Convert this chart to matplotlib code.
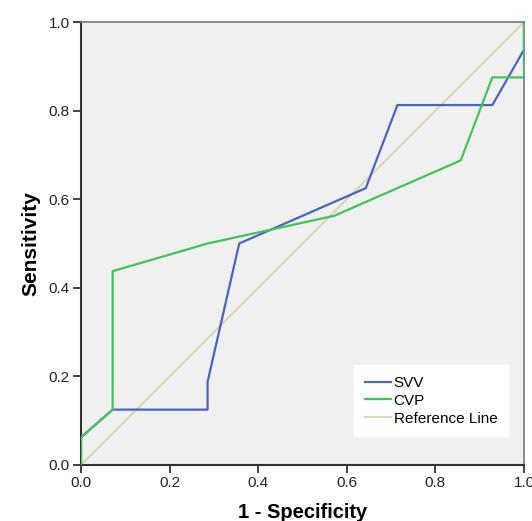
import matplotlib.pyplot as plt

plt.rcParams['font.family'] = ['Liberation Sans', 'DejaVu Sans']

# ROC points (14 negatives, 16 positives)
svv_x = [0, 0, 1/14, 4/14, 4/14, 5/14, 9/14, 10/14, 13/14, 1, 1]
svv_y = [0, 1/16, 2/16, 2/16, 3/16, 8/16, 10/16, 13/16, 13/16, 15/16, 1]
cvp_x = [0, 0, 1/14, 1/14, 4/14, 8/14, 12/14, 13/14, 1, 1]
cvp_y = [0, 1/16, 2/16, 7/16, 8/16, 9/16, 11/16, 14/16, 14/16, 1]
ref_x = [0, 1]
ref_y = [0, 1]
ticks = [0.0, 0.2, 0.4, 0.6, 0.8, 1.0]

fig = plt.figure(figsize=(5.32, 5.21), dpi=100)
ax = fig.add_axes([81/532, 1 - 465/521, 443/532, 443/521])
ax.set_facecolor('#f0f0f0')

ax.plot(svv_x, svv_y, color='#4a64c2', lw=1.6, label='SVV', zorder=2)
ax.plot(cvp_x, cvp_y, color='#42c458', lw=1.6, label='CVP', zorder=3)
ax.plot(ref_x, ref_y, color='#d9d4a6', lw=1.3, label='Reference Line', zorder=1)

ax.set_xlim(0, 1)
ax.set_ylim(0, 1)
ax.set_xticks(ticks)
ax.set_yticks(ticks)
ax.set_xticklabels(['%.1f' % t for t in ticks])
ax.set_yticklabels(['%.1f' % t for t in ticks])
ax.tick_params(direction='out', length=6, width=1.3, color='#333333',
               labelsize=11, labelcolor='#222222', pad=2)

for s in ['left', 'bottom']:
    ax.spines[s].set_color('#333333')
    ax.spines[s].set_linewidth(1.5)
for s in ['top', 'right']:
    ax.spines[s].set_color('#777777')
    ax.spines[s].set_linewidth(1.2)

ax.set_xlabel('1 - Specificity', fontsize=14.5, fontweight='bold', labelpad=9)
ax.set_ylabel('Sensitivity', fontsize=15, fontweight='bold', labelpad=6)

leg = ax.legend(loc='lower right', bbox_to_anchor=(0.964, 0.065), fontsize=11,
                frameon=True, fancybox=False, handlelength=1.75,
                handletextpad=0.15, borderpad=0.7, labelspacing=0.25,
                borderaxespad=0)
leg.get_frame().set_facecolor('white')
leg.get_frame().set_edgecolor('white')
leg.get_frame().set_alpha(1)

plt.savefig('out.png', dpi=100)
